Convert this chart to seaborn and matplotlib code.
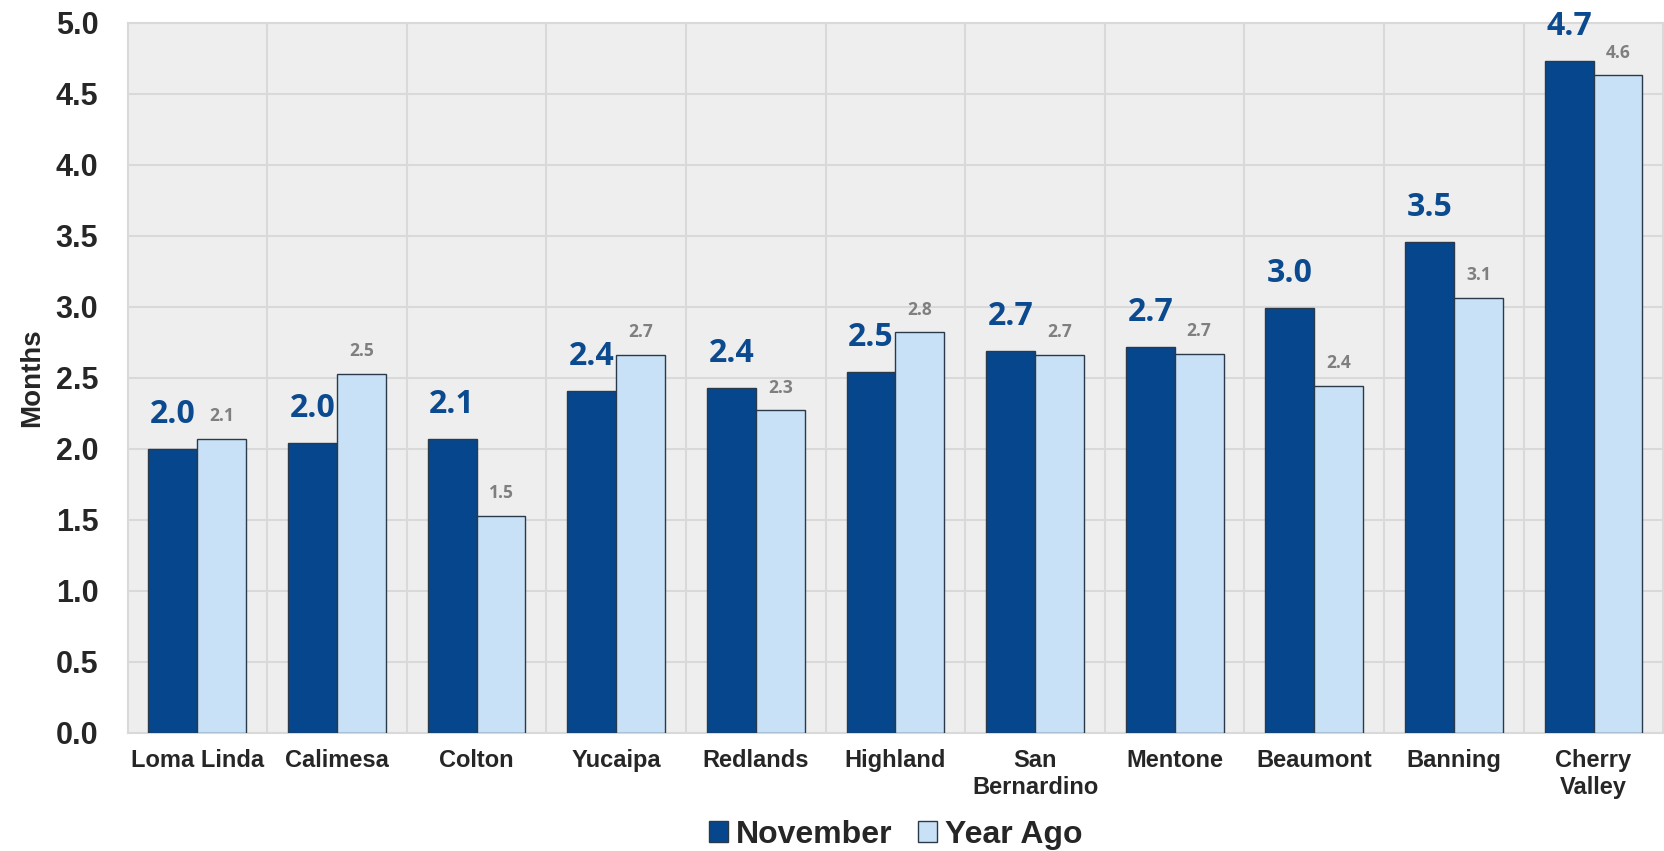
import numpy as np
import pandas as pd
import seaborn as sns
import matplotlib.pyplot as plt

# Months of inventory by city
cities = ['Loma Linda', 'Calimesa', 'Colton', 'Yucaipa', 'Redlands', 'Highland',
          'San\nBernardino', 'Mentone', 'Beaumont', 'Banning', 'Cherry\nValley']
november = [2.0, 2.04, 2.07, 2.41, 2.43, 2.54, 2.69, 2.72, 2.99, 3.46, 4.73]
year_ago = [2.07, 2.53, 1.53, 2.66, 2.27, 2.82, 2.66, 2.67, 2.44, 3.06, 4.63]
series = ['November', 'Year Ago']

df = pd.DataFrame({
    'City': cities * 2,
    'Months': november + year_ago,
    'Period': [series[0]] * len(cities) + [series[1]] * len(cities),
})

sns.set_style('white')
plt.rcParams['font.family'] = ['Liberation Sans', 'DejaVu Sans']

fig = plt.figure(figsize=(16.65, 8.51), dpi=100)
ax = fig.add_axes([0.0766, 0.139, 0.9224, 0.834])
ax.set_facecolor('#eeeeee')

colors = {'November': '#06468c', 'Year Ago': '#c9e1f7'}
sns.barplot(data=df, x='City', y='Months', hue='Period', palette=colors,
            width=0.7, saturation=1, ax=ax, edgecolor='#2b3a4a', linewidth=1.0,
            zorder=3)

# value labels
ax.bar_label(ax.containers[0], fmt='%.1f', padding=13, fontsize=23,
             fontweight='bold', color='#0b4a8f', family='Open Sans')
ax.bar_label(ax.containers[1], fmt='%.1f', padding=10, fontsize=12.5,
             fontweight='bold', color='#7f7f7f', family='Open Sans')

ax.set_ylim(0, 5)
ax.set_xlim(-0.5, len(cities) - 0.5)
ax.set_yticks(np.arange(0, 5.01, 0.5))
ax.set_yticklabels([f'{v:.1f}' for v in np.arange(0, 5.01, 0.5)],
                   fontsize=22, fontweight='bold')
ax.set_xticks(range(len(cities)))
ax.set_xticklabels(cities, fontsize=17, fontweight='bold')
ax.set_xticks(np.arange(0.5, len(cities) - 0.5, 1), minor=True)
ax.tick_params(axis='y', length=0, pad=21)
ax.tick_params(axis='x', length=0, pad=12)
ax.tick_params(axis='x', which='minor', length=0)

ax.grid(axis='y', color='#d9d9d9', linewidth=1.5, zorder=0)
ax.grid(axis='x', which='minor', color='#d9d9d9', linewidth=1.5, zorder=0)
ax.set_axisbelow(True)
for s in ax.spines.values():
    s.set_color('#d9d9d9')
    s.set_linewidth(1.5)

ax.set_xlabel('')
ax.set_ylabel('Months', fontsize=20, fontweight='bold', labelpad=8)

ax.legend(loc='upper center', bbox_to_anchor=(0.5, -0.082), ncol=2, frameon=False,
          prop={'size': 23, 'weight': 'bold'}, handlelength=0.6, handleheight=0.6,
          columnspacing=0.8, handletextpad=0.25)

fig.savefig('out.png', dpi=100)
